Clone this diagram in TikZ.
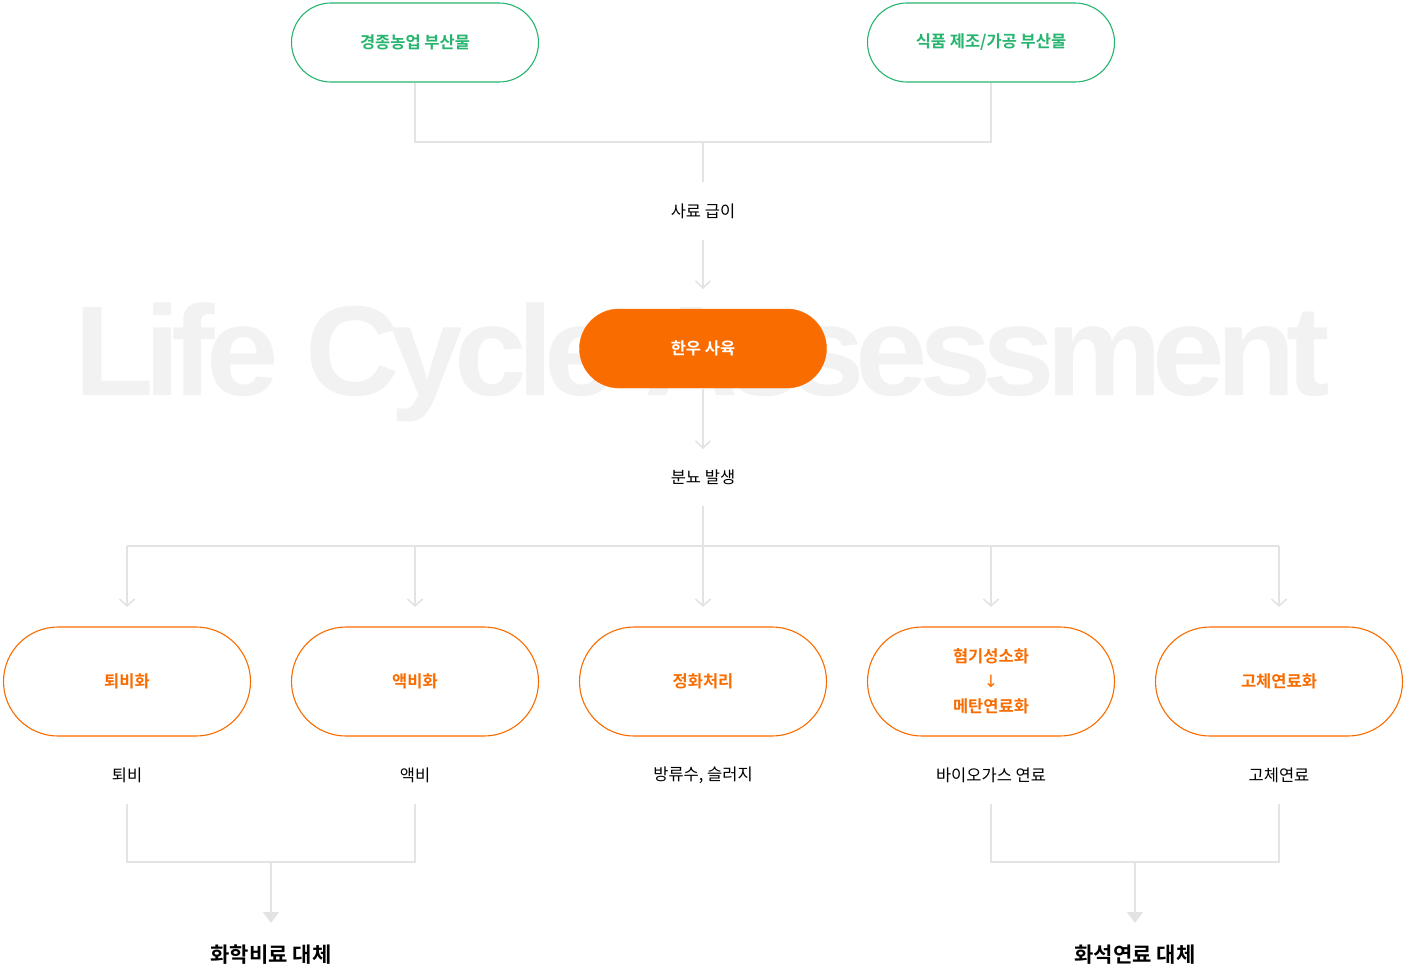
\documentclass[tikz,border=0pt]{standalone}
\usepackage{fontspec}
\setmainfont{Liberation Sans}
\newfontfamily\kr{Noto Sans CJK KR}
\newfontfamily\krb{Noto Sans CJK KR Bold}
\newfontfamily\bgfont[LetterSpace=-7.0]{Liberation Sans Bold}
\usetikzlibrary{arrows.meta,positioning}
\definecolor{grn}{HTML}{27B46E}
\definecolor{org}{HTML}{F96C00}
\definecolor{lgray}{HTML}{E3E3E3}
\definecolor{bggray}{HTML}{F2F2F2}
\tikzset{
  greenpill/.style={draw=grn,line width=1.1pt,fill=white,rounded corners=39.5pt,minimum width=247pt,minimum height=79pt,inner sep=0pt,text=grn,font=\krb\fontsize{16.5}{19}\selectfont},
  orangefill/.style={draw=org,fill=org,rounded corners=39.5pt,minimum width=247pt,minimum height=79pt,inner sep=0pt,text=white,font=\krb\fontsize{16.5}{19}\selectfont},
  orangepill/.style={draw=org,line width=1.1pt,fill=white,rounded corners=54.5pt,minimum width=247pt,minimum height=109pt,inner sep=0pt,text=org,font=\krb\fontsize{16.5}{25}\selectfont,align=center},
  lbl/.style={inner sep=0pt,text=black,font=\kr\fontsize{16.5}{19}\selectfont},
  biglbl/.style={inner sep=0pt,text=black,font=\krb\fontsize{21}{24}\selectfont},
  conn/.style={draw=lgray,line width=2pt},
  chev/.style={conn,-{Straight Barb[length=7pt,width=15pt,line width=1.6pt]}},
  tri/.style={conn,-{Triangle[length=11pt,width=16pt]}},
}
\begin{document}
\begin{tikzpicture}[x=1pt,y=-1pt]
\useasboundingbox (0,0) rectangle (1406,967);
% background text
\node[anchor=base west,inner sep=0pt,text=bggray,font=\bgfont\fontsize{128}{128}\selectfont] (bg) at (74,395) {\resizebox{1256pt}{\height}{Life Cycle Assessment}};
% top nodes
\node[greenpill] (n1) at (415,42.5) {경종농업 부산물};
\node[greenpill] (n2) at (991,42.5) {식품 제조/가공 부산물};
\coordinate (j1) at (703,142);
\coordinate (j1l) at (415,142);
\coordinate (j1r) at (991,142);
\coordinate (j1b) at (703,182);
\draw[conn] (n1.south) -- (j1l) -- (j1r) -- (n2.south);
\draw[conn] (j1) -- (j1b);
\node[lbl] (feed) at (703,211) {사료 급이};
\coordinate (a1s) at (703,240);
\coordinate (a1e) at (703,289);
\draw[chev] (a1s) -- (a1e);
\node[orangefill] (hw) at (703,348.5) {한우 사육};
\coordinate (a2e) at (703,449);
\draw[chev] (hw.south) -- (a2e);
\node[lbl] (dung) at (703,477) {분뇨 발생};
% distribution
\coordinate (d0) at (703,506);
\coordinate (dj) at (703,546);
\coordinate (dl) at (127,546);
\coordinate (dr) at (1279,546);
\draw[conn] (d0) -- (dj);
\draw[conn] (dl) -- (dr);
\foreach \x/\nm in {127/c1,415/c2,703/c3,991/c4,1279/c5}{
  \coordinate (\nm t) at (\x,546);
  \coordinate (\nm e) at (\x,607);
  \draw[chev] (\nm t) -- (\nm e);
}
\node[orangepill] (b1) at (127,681.5) {퇴비화};
\node[orangepill] (b2) at (415,681.5) {액비화};
\node[orangepill] (b3) at (703,681.5) {정화처리};
\node[orangepill] (b4) at (991,681.5) {혐기성소화\\{\fontspec{DejaVu Sans}\fontsize{17}{25}\selectfont ↓}\\메탄연료화};
\node[orangepill] (b5) at (1279,681.5) {고체연료화};
\node[lbl] (o1) at (127,775) {퇴비};
\node[lbl] (o2) at (415,775) {액비};
\node[lbl] (o3) at (703,775) {방류수, 슬러지};
\node[lbl] (o4) at (991,775) {바이오가스 연료};
\node[lbl] (o5) at (1279,775) {고체연료};
% bottom merges
\coordinate (m1a) at (127,804);
\coordinate (m1b) at (127,862);
\coordinate (m1c) at (415,862);
\coordinate (m1d) at (415,804);
\coordinate (m1m) at (271,862);
\coordinate (m1e) at (271,923);
\draw[conn] (m1a) -- (m1b) -- (m1c) -- (m1d);
\draw[tri] (m1m) -- (m1e);
\node[biglbl] (r1) at (271,955) {화학비료 대체};
\coordinate (m2a) at (991,804);
\coordinate (m2b) at (991,862);
\coordinate (m2c) at (1279,862);
\coordinate (m2d) at (1279,804);
\coordinate (m2m) at (1135,862);
\coordinate (m2e) at (1135,923);
\draw[conn] (m2a) -- (m2b) -- (m2c) -- (m2d);
\draw[tri] (m2m) -- (m2e);
\node[biglbl] (r2) at (1135,955) {화석연료 대체};
\end{tikzpicture}
\end{document}
